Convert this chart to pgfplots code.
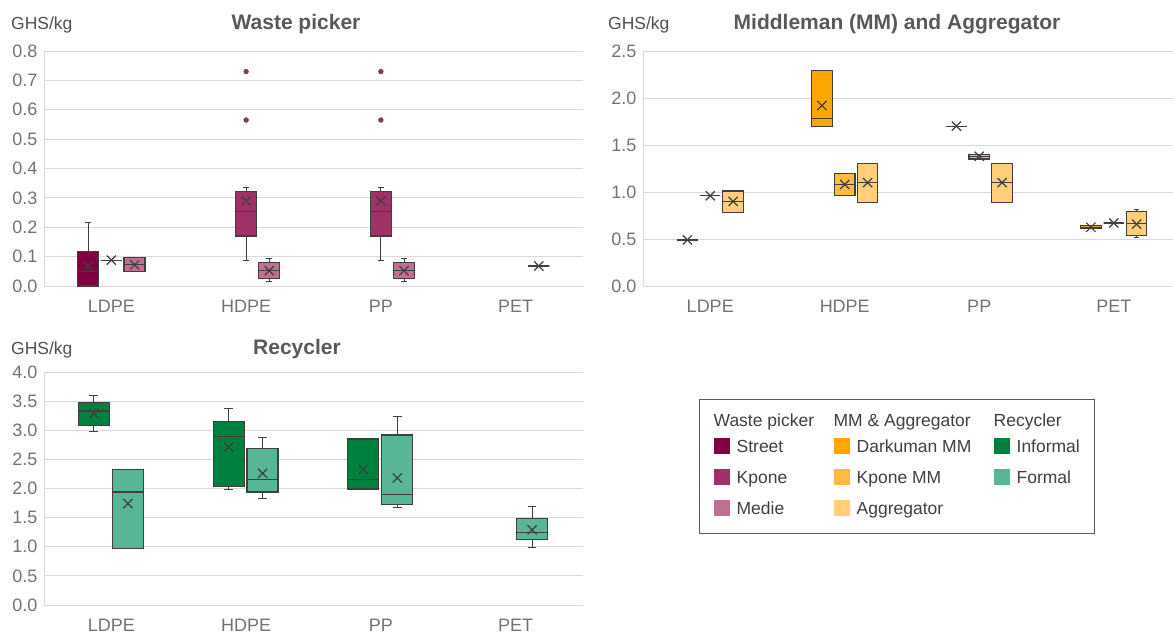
\documentclass[border=0pt]{standalone}
\usepackage{fontspec}
\setmainfont{Liberation Sans}
\usepackage{pgfplots}
\pgfplotsset{compat=1.18}
\usepgfplotslibrary{statistics}

\definecolor{street}{RGB}{128,0,64}
\definecolor{kpone}{RGB}{158,50,102}
\definecolor{medie}{RGB}{192,110,145}
\definecolor{darkuman}{RGB}{255,165,0}
\definecolor{kponemm}{RGB}{255,186,66}
\definecolor{aggreg}{RGB}{255,206,125}
\definecolor{informal}{RGB}{0,128,62}
\definecolor{formal}{RGB}{88,182,148}
\definecolor{boxline}{RGB}{64,64,64}
\definecolor{meancol}{RGB}{55,55,55}
\definecolor{gridcol}{RGB}{217,217,217}
\definecolor{tickcol}{RGB}{115,115,115}
\definecolor{titlecol}{RGB}{89,89,89}
\definecolor{ghscol}{RGB}{80,80,80}
\definecolor{legtext}{RGB}{64,64,64}
\definecolor{legborder}{RGB}{89,89,89}

\pgfplotsset{
  panel/.style={
    scale only axis, width=539pt, height=235pt,
    xmin=-0.5, xmax=3.5, ymin=0,
    xtick={0,1,2,3}, xticklabels={LDPE,HDPE,PP,PET},
    axis x line*=bottom, axis y line*=left,
    axis line style={draw=gridcol, line width=0.8pt},
    ymajorgrids, grid style={draw=gridcol, line width=0.8pt},
    major tick length=0pt,
    tick label style={font=\fontsize{18}{18}\selectfont, text=tickcol},
    /pgf/number format/assume math mode=true,
    yticklabel style={/pgf/number format/fixed, /pgf/number format/fixed zerofill, /pgf/number format/precision=1, xshift=-3pt},
    xticklabel style={anchor=base, yshift=-27pt},
    clip=false,
    boxplot/draw direction=y,
    boxplot/every average/.style={/tikz/mark=x, /tikz/mark size=6.5pt, /tikz/draw=meancol, /tikz/line width=1pt, /tikz/solid},
  },
  bxs/.style={solid, draw=boxline, fill=#1, line width=1.2pt,
    mark=*, mark size=2.4pt, mark options={fill=#1, draw=boxline, line width=0.4pt, solid},
    boxplot/every box/.style={draw=boxline, fill=#1, line width=1.2pt},
    boxplot/every whisker/.style={draw=boxline, line width=1pt},
    boxplot/every median/.style={draw=boxline, line width=1.2pt}},
}

\begin{document}
\begin{tikzpicture}
\useasboundingbox (0pt,0pt) rectangle (1173pt,634pt);

% ---------------- Waste picker ----------------
\begin{axis}[panel, at={(44pt,348pt)}, anchor=south west,
  ymax=0.8, ytick={0,0.1,0.2,0.3,0.4,0.5,0.6,0.7,0.8},
  boxplot/box extend=0.156, boxplot/whisker extend=0.042]
% LDPE
\addplot[bxs=street, boxplot prepared={draw position=-0.172, lower whisker=0, lower quartile=0, median=0.049, upper quartile=0.117, upper whisker=0.217, average=0.066}] coordinates {};
\addplot[bxs=kpone, boxplot prepared={draw position=0, lower whisker=0.088, lower quartile=0.088, median=0.088, upper quartile=0.088, upper whisker=0.088, average=0.088}] coordinates {};
\addplot[bxs=medie, boxplot prepared={draw position=0.172, lower whisker=0.049, lower quartile=0.049, median=0.074, upper quartile=0.096, upper whisker=0.096, average=0.072}] coordinates {};
% HDPE
\addplot[bxs=kpone, boxplot prepared={draw position=1, lower whisker=0.088, lower quartile=0.170, median=0.253, upper quartile=0.323, upper whisker=0.336, average=0.290}] table[row sep=\\, y index=0] {v\\ 0.730\\ 0.565\\};
\addplot[bxs=medie, boxplot prepared={draw position=1.172, lower whisker=0.017, lower quartile=0.025, median=0.052, upper quartile=0.079, upper whisker=0.095, average=0.052}] coordinates {};
% PP
\addplot[bxs=kpone, boxplot prepared={draw position=2, lower whisker=0.088, lower quartile=0.170, median=0.253, upper quartile=0.323, upper whisker=0.336, average=0.290}] table[row sep=\\, y index=0] {v\\ 0.730\\ 0.565\\};
\addplot[bxs=medie, boxplot prepared={draw position=2.172, lower whisker=0.017, lower quartile=0.025, median=0.052, upper quartile=0.079, upper whisker=0.095, average=0.052}] coordinates {};
% PET
\addplot[bxs=medie, boxplot prepared={draw position=3.172, lower whisker=0.068, lower quartile=0.068, median=0.068, upper quartile=0.068, upper whisker=0.068, average=0.068}] coordinates {};
\end{axis}

% ---------------- Middleman and Aggregator ----------------
\begin{axis}[panel, at={(643pt,348pt)}, anchor=south west, width=538pt,
  ymax=2.5, ytick={0,0.5,1,1.5,2,2.5},
  boxplot/box extend=0.152, boxplot/whisker extend=0.041]
% LDPE
\addplot[bxs=darkuman, boxplot prepared={draw position=-0.17, lower whisker=0.49, lower quartile=0.49, median=0.49, upper quartile=0.49, upper whisker=0.49, average=0.49}] coordinates {};
\addplot[bxs=kponemm, boxplot prepared={draw position=0, lower whisker=0.96, lower quartile=0.96, median=0.96, upper quartile=0.96, upper whisker=0.96, average=0.96}] coordinates {};
\addplot[bxs=aggreg, boxplot prepared={draw position=0.17, lower whisker=0.78, lower quartile=0.78, median=0.90, upper quartile=1.01, upper whisker=1.01, average=0.90}] coordinates {};
% HDPE
\addplot[bxs=darkuman, boxplot prepared={draw position=0.83, lower whisker=1.70, lower quartile=1.70, median=1.78, upper quartile=2.29, upper whisker=2.29, average=1.92}] coordinates {};
\addplot[bxs=kponemm, boxplot prepared={draw position=1, lower whisker=0.96, lower quartile=0.96, median=1.08, upper quartile=1.195, upper whisker=1.195, average=1.08}] coordinates {};
\addplot[bxs=aggreg, boxplot prepared={draw position=1.17, lower whisker=0.89, lower quartile=0.89, median=1.10, upper quartile=1.30, upper whisker=1.30, average=1.10}] coordinates {};
% PP
\addplot[bxs=darkuman, boxplot prepared={draw position=1.83, lower whisker=1.70, lower quartile=1.70, median=1.70, upper quartile=1.70, upper whisker=1.70, average=1.70}] coordinates {};
\addplot[bxs=kponemm, boxplot prepared={draw position=2, lower whisker=1.35, lower quartile=1.35, median=1.38, upper quartile=1.40, upper whisker=1.40, average=1.38}] coordinates {};
\addplot[bxs=aggreg, boxplot prepared={draw position=2.17, lower whisker=0.89, lower quartile=0.89, median=1.10, upper quartile=1.30, upper whisker=1.30, average=1.10}] coordinates {};
% PET
\addplot[bxs=darkuman, boxplot prepared={draw position=2.83, lower whisker=0.61, lower quartile=0.61, median=0.625, upper quartile=0.645, upper whisker=0.645, average=0.625}] coordinates {};
\addplot[bxs=kponemm, boxplot prepared={draw position=3, lower whisker=0.67, lower quartile=0.67, median=0.67, upper quartile=0.67, upper whisker=0.67, average=0.67}] coordinates {};
\addplot[bxs=aggreg, boxplot prepared={draw position=3.17, lower whisker=0.52, lower quartile=0.535, median=0.665, upper quartile=0.79, upper whisker=0.81, average=0.658}] coordinates {};
\end{axis}

% ---------------- Recycler ----------------
\begin{axis}[panel, at={(44pt,29pt)}, anchor=south west, height=233pt,
  ymax=4, ytick={0,0.5,1,1.5,2,2.5,3,3.5,4},
  boxplot/box extend=0.23, boxplot/whisker extend=0.065,
  legend columns=3,
  legend cell align=left,
  legend image code/.code={\fill[#1, draw=none] (0pt,-8pt) rectangle (16pt,8pt);},
  legend style={at={(axis description cs:1.2152,0.8841)}, anchor=north west,
    draw=legborder, line width=1.3pt, fill=white,
    inner xsep=14pt, inner ysep=17.5pt, row sep=15pt,
    font=\fontsize{17.5}{17.5}\selectfont, text=legtext,
    nodes={inner sep=0pt, text depth=0pt}}]
\addlegendimage{empty legend}
\addlegendentry{\rule{0pt}{6pt}\smash{\raisebox{-3.5pt}{\makebox[104pt][l]{\hspace{-16pt}Waste picker}}}}
\addlegendimage{empty legend}
\addlegendentry{\rule{0pt}{6pt}\smash{\raisebox{-3.5pt}{\makebox[144pt][l]{\hspace{-16pt}MM \& Aggregator}}}}
\addlegendimage{empty legend}
\addlegendentry{\rule{0pt}{6pt}\smash{\raisebox{-3.5pt}{\makebox[71pt][l]{\hspace{-16pt}Recycler}}}}
\addlegendimage{fill=street}
\addlegendentry{\makebox[104pt][l]{\hspace{7pt}Street}}
\addlegendimage{fill=darkuman}
\addlegendentry{\makebox[144pt][l]{\hspace{7pt}Darkuman MM}}
\addlegendimage{fill=informal}
\addlegendentry{\makebox[71pt][l]{\hspace{7pt}Informal}}
\addlegendimage{fill=kpone}
\addlegendentry{\makebox[104pt][l]{\hspace{7pt}Kpone}}
\addlegendimage{fill=kponemm}
\addlegendentry{\makebox[144pt][l]{\hspace{7pt}Kpone MM}}
\addlegendimage{fill=formal}
\addlegendentry{\makebox[71pt][l]{\hspace{7pt}Formal}}
\addlegendimage{fill=medie}
\addlegendentry{\makebox[104pt][l]{\hspace{7pt}Medie}}
\addlegendimage{fill=aggreg}
\addlegendentry{\makebox[144pt][l]{\hspace{7pt}Aggregator}}
\addlegendimage{empty legend}
\addlegendentry{}
% LDPE
\addplot[forget plot, bxs=informal, boxplot prepared={draw position=-0.13, lower whisker=2.98, lower quartile=3.08, median=3.33, upper quartile=3.48, upper whisker=3.60, average=3.29}] coordinates {};
\addplot[forget plot, bxs=formal, boxplot prepared={draw position=0.122, lower whisker=0.97, lower quartile=0.97, median=1.94, upper quartile=2.32, upper whisker=2.32, average=1.74}] coordinates {};
% HDPE
\addplot[forget plot, bxs=informal, boxplot prepared={draw position=0.87, lower whisker=1.99, lower quartile=2.04, median=2.89, upper quartile=3.15, upper whisker=3.37, average=2.71}] coordinates {};
\addplot[forget plot, bxs=formal, boxplot prepared={draw position=1.122, lower whisker=1.82, lower quartile=1.94, median=2.16, upper quartile=2.69, upper whisker=2.87, average=2.26}] coordinates {};
% PP
\addplot[forget plot, bxs=informal, boxplot prepared={draw position=1.87, lower whisker=1.99, lower quartile=1.99, median=2.16, upper quartile=2.85, upper whisker=2.85, average=2.33}] coordinates {};
\addplot[forget plot, bxs=formal, boxplot prepared={draw position=2.122, lower whisker=1.68, lower quartile=1.72, median=1.90, upper quartile=2.92, upper whisker=3.24, average=2.18}] coordinates {};
% PET
\addplot[forget plot, bxs=formal, boxplot prepared={draw position=3.122, lower whisker=0.98, lower quartile=1.13, median=1.24, upper quartile=1.49, upper whisker=1.69, average=1.29}] coordinates {};
\end{axis}

% ---------------- titles ----------------
\node[anchor=base, inner sep=0pt, font=\fontsize{21}{21}\selectfont\bfseries, text=titlecol] at (296pt,604pt) {Waste picker};
\node[anchor=base west, inner sep=0pt, font=\fontsize{17.5}{17.5}\selectfont, text=ghscol] at (11pt,604pt) {GHS/kg};
\node[anchor=base, inner sep=0pt, font=\fontsize{21}{21}\selectfont\bfseries, text=titlecol] at (897pt,604pt) {Middleman (MM) and Aggregator};
\node[anchor=base west, inner sep=0pt, font=\fontsize{17.5}{17.5}\selectfont, text=ghscol] at (608pt,604pt) {GHS/kg};
\node[anchor=base, inner sep=0pt, font=\fontsize{21}{21}\selectfont\bfseries, text=titlecol] at (297pt,279pt) {Recycler};
\node[anchor=base west, inner sep=0pt, font=\fontsize{17.5}{17.5}\selectfont, text=ghscol] at (11pt,279pt) {GHS/kg};
\end{tikzpicture}
\end{document}
